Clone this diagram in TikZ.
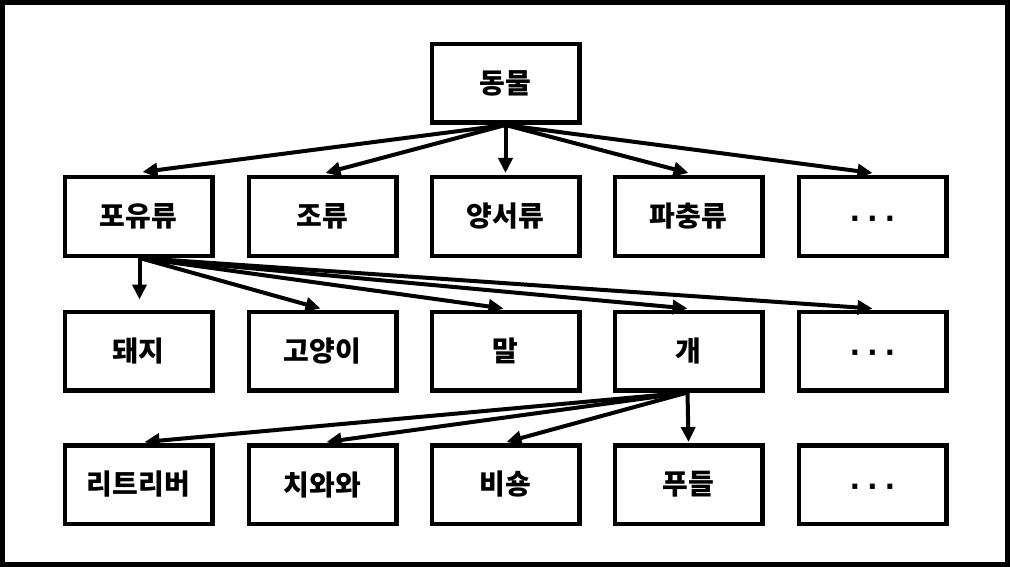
\documentclass[tikz,border=0pt]{standalone}
\usepackage{fontspec}
\setmainfont{Noto Sans CJK KR}
\newfontfamily\dotfont{DejaVu Sans}
\usetikzlibrary{arrows.meta}
\tikzset{
  box/.style={draw, line width=4.5pt, minimum width=147.5pt, minimum height=78.5pt,
    inner sep=0pt, font=\fontsize{28}{30}\selectfont\bfseries},
  conn/.style={line width=4pt, -{Triangle[length=15pt,width=14pt]}},
}
\newcommand{\dotstext}{\raisebox{-11.5pt}[0pt][0pt]{\dotfont\bfseries\fontsize{28}{28}\selectfont ·\hspace{6.9pt}·\hspace{6.9pt}·}}
\begin{document}
\begin{tikzpicture}[x=1pt,y=-1pt]
\useasboundingbox (0,0) rectangle (1010,567);
\draw[line width=5pt] (2.5,2.5) rectangle (1007.5,564.5);
\node[box] (top) at (505.5,83.5) {동물};
% row 2
\node[box] (a1) at (138.5,216.5) {포유류};
\node[box] (a2) at (322.5,216.5) {조류};
\node[box] (a3) at (505.5,216.5) {양서류};
\node[box] (a4) at (688.5,216.5) {파충류};
\node[box] (a5) at (872.5,216.5) {\dotstext};
% row 3
\node[box] (b1) at (138.5,351) {돼지};
\node[box] (b2) at (322.5,351) {고양이};
\node[box] (b3) at (505.5,351) {말};
\node[box] (b4) at (688.5,351) {개};
\node[box] (b5) at (872.5,351) {\dotstext};
% row 4
\node[box] (c1) at (138.5,484.5) {리트리버};
\node[box] (c2) at (322.5,484.5) {치와와};
\node[box] (c3) at (505.5,484.5) {비숑};
\node[box] (c4) at (688.5,484.5) {푸들};
\node[box] (c5) at (872.5,484.5) {\dotstext};
% connectors
\draw[conn] (top.south) -- ([xshift=4pt,yshift=3pt]a1.north);
\draw[conn] (top.south) -- ([xshift=3pt,yshift=2pt]a2.north);
\draw[conn] (top.south) -- ([yshift=2pt]a3.north);
\draw[conn] (top.south) -- ([yshift=2pt]a4.north);
\draw[conn] (top.south) -- ([yshift=2pt]a5.north);
\draw[conn] ([xshift=1pt]a1.south) -- ([xshift=1pt,yshift=10pt]b1.north);
\draw[conn] ([xshift=1pt]a1.south) -- ([xshift=-2pt,yshift=1pt]b2.north);
\draw[conn] ([xshift=1pt]a1.south) -- ([xshift=-2pt,yshift=1pt]b3.north);
\draw[conn] ([xshift=1pt]a1.south) -- ([xshift=-1pt,yshift=1pt]b4.north);
\draw[conn] ([xshift=1pt]a1.south) -- ([yshift=1pt]b5.north);
\draw[conn] ([xshift=-1pt]b4.south) -- ([xshift=6pt,yshift=1pt]c1.north);
\draw[conn] ([xshift=-1pt]b4.south) -- ([xshift=4pt,yshift=1pt]c2.north);
\draw[conn] ([xshift=-1pt]b4.south) -- ([xshift=1pt,yshift=1pt]c3.north);
\draw[conn] ([xshift=-1pt]b4.south) -- ([yshift=1pt]c4.north);
\end{tikzpicture}
\end{document}
